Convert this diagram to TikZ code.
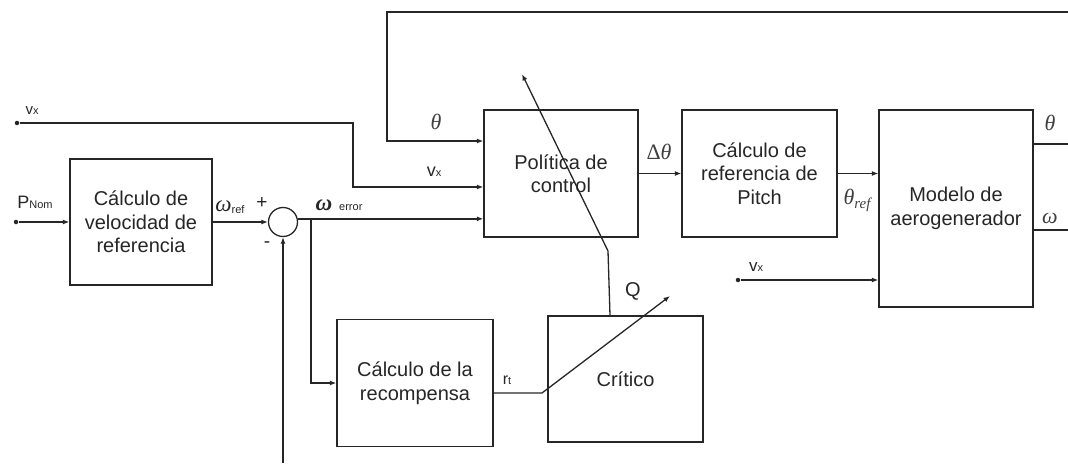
\documentclass[tikz,border=0pt]{standalone}
\usepackage{fontspec}
\setmainfont{Liberation Sans}
\newfontfamily\greekserif{Liberation Serif}
\usetikzlibrary{arrows.meta}
\newcommand{\smallsub}[1]{{\fontsize{11}{11}\selectfont #1}}
\begin{document}
\begin{tikzpicture}[x=1pt,y=-1pt,line width=1.3pt,
  block/.style={draw=black!85, line width=1.3pt, inner sep=0pt, align=center,
    font=\fontsize{20}{23.5}\selectfont, text=black!85},
  conn/.style={draw=black!85, line width=1.3pt},
  arr/.style={conn, -{Latex[length=6.5pt,width=5pt]}},
  dot/.style={circle, fill=black!85, inner sep=0pt, minimum size=4.5pt},
  lbl/.style={inner sep=0pt, text=black!85},
  glbl/.style={inner sep=0pt, text=black!75, font=\fontsize{22}{22}\greekserif\itshape}]
\useasboundingbox (0,0) rectangle (1068,468);

% blocks
\node[block, minimum width=142pt, minimum height=126pt] (vel) at (141,222) {Cálculo de\\velocidad de\\referencia};
\node[block, minimum width=154pt, minimum height=127pt] (pol) at (561,173.5) {Política de\\control};
\node[block, minimum width=155pt, minimum height=127pt] (pitch) at (759.5,173.5) {Cálculo de\\referencia de\\Pitch};
\node[block, minimum width=154pt, minimum height=197pt] (mod) at (956,208.5) {Modelo de\\aerogenerador};
\node[block, minimum width=156pt, minimum height=127pt] (rec) at (415,383) {Cálculo de la\\recompensa};
\node[block, minimum width=155pt, minimum height=126pt] (crit) at (625.5,379) {Crítico};

% summing junction
\node[circle, conn, minimum size=29pt, inner sep=0pt] (sum) at (283,222) {};

% input terminals
\node[dot] (pn) at (16,222) {};
\node[dot] (vx1) at (17,123) {};
\node[dot] (vx2) at (738,280) {};

% corner points of the wiring
\coordinate (vxk) at (353,187);
\coordinate (br) at (311,0);
\coordinate (fb) at (283,463);
\coordinate (thR) at (1068,12);
\coordinate (thtop) at (387,12);
\coordinate (thin) at (387,141);
\coordinate (thout) at (1068,144);
\coordinate (wout) at (1068,230);
\coordinate (rk) at (542,393);
\coordinate (qtip) at (670,296);
\coordinate (qb) at (610,0);
\coordinate (qk) at (608,251);
\coordinate (ptip) at (522,74);

% signal paths
\draw[arr] (pn) -- (vel.west);
\draw[arr] (vel.east) -- (sum.west);
\draw[arr] (sum.12) -- (sum.12 -| pol.west);
\draw[arr] (br |- sum.12) -- (br |- rec.west) -- (rec.west);
\draw[arr] (fb) -- (sum.south);
\draw[arr] (vx1) -| (vxk) -- (vxk -| pol.west);
\draw[arr] (thR) -- (thtop) -- (thin) -- (thin -| pol.west);
\draw[arr] (pol.east) -- (pitch.west);
\draw[arr] (pitch.east) -- (pitch.east -| mod.west);
\draw[conn] (thout -| mod.east) -- (thout);
\draw[conn] (wout -| mod.east) -- (wout);
\draw[arr] (vx2) -- (vx2 -| mod.west);
\draw[arr] (rk -| rec.east) -- (rk) -- (qtip);
\draw[arr] (qb |- crit.north) -- (qk) -- (ptip);

% labels
\node[lbl, font=\fontsize{18}{18}\selectfont] at (35,202) {P\smallsub{Nom}};
\node[lbl, font=\fontsize{15}{15}\selectfont] at (32,111) {v\smallsub{x}};
\node[lbl, font=\fontsize{18}{18}\selectfont] at (434,172) {v\smallsub{x}};
\node[lbl, font=\fontsize{17}{17}\selectfont] at (756,267) {v\smallsub{x}};
\node[lbl] at (230,207) {{\fontsize{23}{23}\greekserif\itshape ω}\raisebox{-2pt}{\smallsub{ref}}};
\node[lbl, font=\fontsize{19}{19}\selectfont] at (262,203) {+};
\node[lbl, font=\fontsize{19}{19}\selectfont] at (267,245) {-};
\node[lbl] at (339,205) {{\fontsize{23}{23}\greekserif\bfseries\itshape ω}\hspace{7pt}\smallsub{error}};
\node[glbl] at (436,122) {θ};
\node[glbl] at (659,152) {{\upshape Δ}θ};
\node[glbl] at (857,200) {θ\raisebox{-4pt}{\fontsize{15}{15}\selectfont ref}};
\node[glbl] at (1050,123) {θ};
\node[glbl] at (1050,218) {ω};
\node[lbl, font=\fontsize{16}{16}\selectfont] at (507,380) {r\smallsub{t}};
\node[lbl, font=\fontsize{20}{20}\selectfont] at (633,291) {Q};
\end{tikzpicture}
\end{document}
